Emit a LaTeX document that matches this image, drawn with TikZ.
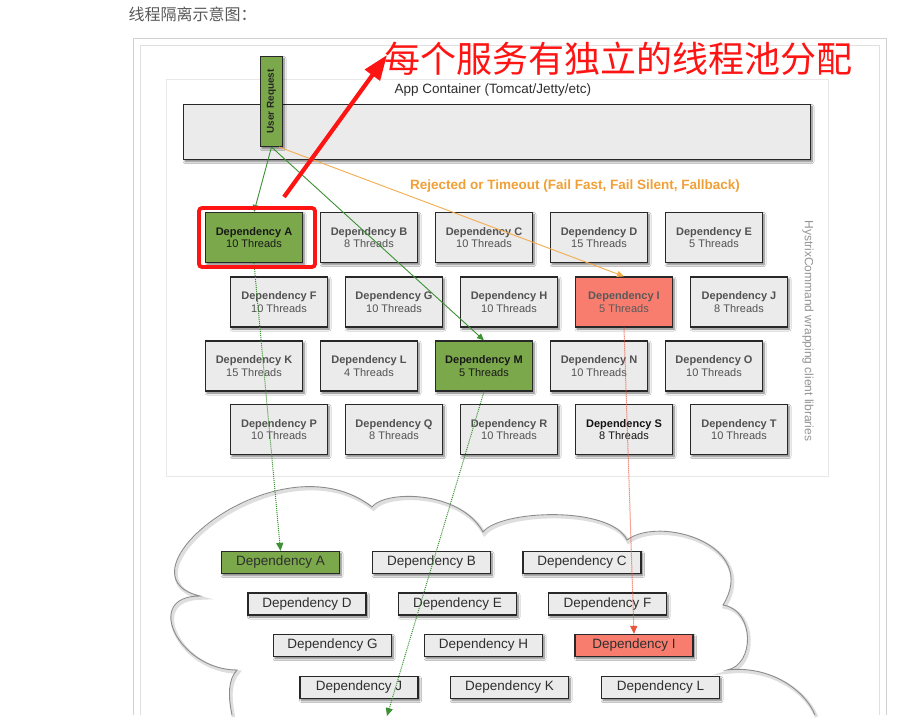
\documentclass[tikz,border=0pt]{standalone}
\usepackage{fontspec}
\setmainfont{Liberation Sans}
\newfontfamily\cjk{Noto Sans CJK SC}
\usetikzlibrary{shadows,shadows.blur,arrows.meta,calc}
\definecolor{boxgray}{RGB}{235,235,235}
\definecolor{depgreen}{RGB}{122,168,74}
\definecolor{depred}{RGB}{248,125,110}
\definecolor{linegreen}{RGB}{60,145,50}
\definecolor{lineorange}{RGB}{245,172,75}
\definecolor{txtorange}{RGB}{240,160,55}
\definecolor{linered}{RGB}{235,85,60}
\definecolor{annored}{RGB}{255,20,20}
\definecolor{edge}{RGB}{40,40,40}
\begin{document}
\begin{tikzpicture}[x=1pt,y=-1pt,
  shad/.style={blur shadow={shadow xshift=1.5pt,shadow yshift=-2pt,shadow blur radius=2pt,shadow blur steps=6,shadow opacity=55}},
  dbox/.style={draw=edge,line width=1.2pt,fill=boxgray,minimum width=97pt,minimum height=50pt,
    inner sep=0pt,align=center,text=black!68,font=\fontsize{11}{12.5}\selectfont,shad},
  gbox/.style={dbox,fill=depgreen,text=black!90},
  rbox/.style={dbox,fill=depred,text=black!65},
  sbox/.style={dbox,text=black!92},
  cbox/.style={draw=edge,line width=1.2pt,fill=boxgray,minimum width=118pt,minimum height=22pt,
    inner sep=0pt,font=\fontsize{13.5}{14}\selectfont,text=black!82,shad},
  cgbox/.style={cbox,fill=depgreen},
  crbox/.style={cbox,fill=depred},
  solidarrow/.style={line width=0.9pt,-{Triangle[length=7pt,width=6pt]}},
  dotarrow/.style={line width=1pt,dash pattern=on 1pt off 1pt,-{Triangle[length=8pt,width=7pt]}},
  frameline/.style={draw=black!18,line width=0.8pt}
]
\useasboundingbox (0,0) rectangle (920,722);
\fill[white] (0,0) rectangle (920,722);

% title
\node[anchor=west,font=\cjk\fontsize{16}{16}\selectfont,text=black!65] (title) at (125,14) {线程隔离示意图：};

% outer frame
\draw[frameline] (133,715) -- (133,38) -- (886,38) -- (886,715);
\draw[frameline,draw=black!12] (140,715) -- (140,45) -- (879,45) -- (879,715);

% hystrix area
\node[draw=black!9,line width=0.8pt,minimum width=662pt,minimum height=397pt] (hx) at (497,277.5) {};
\node[rotate=-90,font=\fontsize{12}{12}\selectfont,text=black!42] (hxlbl) at (808,331) {HystrixCommand wrapping client libraries};

% cloud
\begin{scope}[shift={(1.5,2)}]
\draw[black!13,line width=3.5pt]
  (232,715) .. controls (228,695) and (228,680) .. (237,670)
  .. controls (179,670) and (142,596) .. (200,596)
  .. controls (110,575) and (280,435) .. (372,507)
  .. controls (385,490) and (460,490) .. (483,532)
  .. controls (500,510) and (610,505) .. (627,540)
  .. controls (660,515) and (760,545) .. (723,605)
  .. controls (755,610) and (755,665) .. (727,670)
  .. controls (770,665) and (805,690) .. (815,715);
\end{scope}
\draw[black!45,line width=0.9pt]
  (232,715) .. controls (228,695) and (228,680) .. (237,670)
  .. controls (179,670) and (142,596) .. (200,596)
  .. controls (110,575) and (280,435) .. (372,507)
  .. controls (385,490) and (460,490) .. (483,532)
  .. controls (500,510) and (610,505) .. (627,540)
  .. controls (660,515) and (760,545) .. (723,605)
  .. controls (755,610) and (755,665) .. (727,670)
  .. controls (770,665) and (805,690) .. (815,715);

% app container
\node[anchor=west,font=\fontsize{13.5}{14}\selectfont,text=black!82] (applbl) at (391,90) {App Container (Tomcat/Jetty/etc)};
\node[draw=edge,line width=1.2pt,fill=boxgray,minimum width=627pt,minimum height=55pt,inner sep=0pt,shad] (app) at (497,132) {};

% user request
\node[draw=edge,line width=1.1pt,fill=depgreen,minimum width=22pt,minimum height=90pt,inner sep=0pt,shad] (ur) at (271.5,101.5)
  {\rotatebox{90}{\fontsize{10}{10}\selectfont\bfseries\color{black!85}User Request}};

\node[font=\bfseries\fontsize{13.5}{14}\selectfont,text=txtorange] (rej) at (575,186) {Rejected or Timeout (Fail Fast, Fail Silent, Fallback)};

% dependency grid
\foreach \nm/\px/\py/\nthr/\st in {
  A/254/237.5/10/gbox, B/369/237.5/8/dbox, C/484/237.5/10/dbox, D/599/237.5/15/dbox, E/714/237.5/5/dbox,
  F/279/302/10/dbox, G/394/302/10/dbox, H/509/302/10/dbox, I/624/302/5/rbox, J/739/302/8/dbox,
  K/254/366/15/dbox, L/369/366/4/dbox, M/484/366/5/gbox, N/599/366/10/dbox, O/714/366/10/dbox,
  P/279/429.5/10/dbox, Q/394/429.5/8/dbox, R/509/429.5/10/dbox, S/624/429.5/8/sbox, T/739/429.5/10/dbox}
  \node[\st] (d\nm) at (\px,\py) {\textbf{Dependency \nm}\\\nthr{} Threads};

% cloud boxes
\foreach \nm/\px/\py/\st in {
  A/280.5/562.5/cgbox, B/431.5/562.5/cbox, C/582/562.5/cbox,
  D/307/604/cbox, E/457.5/604/cbox, F/607.5/604/cbox,
  G/332.5/645.5/cbox, H/483.5/645.5/cbox, I/634/645.5/crbox,
  J/359/687.5/cbox, K/509.5/687.5/cbox, L/660.5/687.5/cbox}
  \node[\st] (c\nm) at (\px,\py) {Dependency \nm};

% connectors
\draw[linegreen,solidarrow] (ur.south) -- (dA.north);
\draw[linegreen,solidarrow] (ur.south) -- (dM.north);
\draw[lineorange,solidarrow] ([xshift=-4pt]ur.south east) -- (dI.north);
\coordinate (mend) at (387,716);
\draw[linegreen,dotarrow] (dA.south) -- (cA.north);
\draw[linegreen,dotarrow] (dM.south) -- (mend);
\draw[linered,dotarrow] (dI.south) -- (cI.north);

% annotation
\node[draw=annored,line width=3.8pt,rounded corners=3pt,minimum width=116pt,minimum height=59pt,inner sep=0pt] (hl) at (257,237.5) {};
\node[anchor=west,font=\cjk\fontsize{36}{37}\selectfont,text=annored,inner sep=0pt] (anno) at (384,59) {每个服务有独立的线程池分配};
\coordinate (redtail) at (284,197);
\coordinate (redtip) at (387,55);
\draw[annored,line width=4.2pt,-{Triangle[length=25pt,width=18pt]}] (redtail) -- (redtip);
\end{tikzpicture}
\end{document}
